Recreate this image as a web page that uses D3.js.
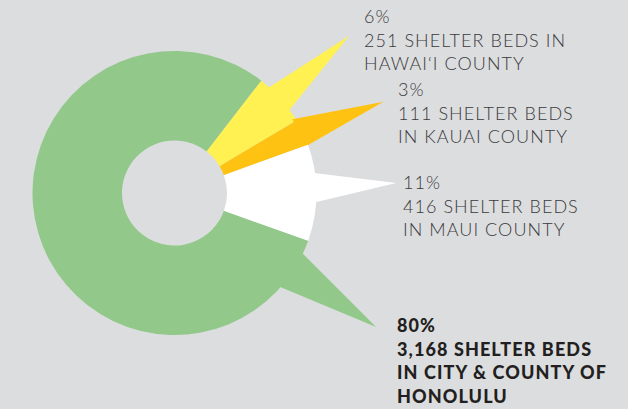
<!DOCTYPE html>
<meta charset="utf-8">
<head>
<style>
body { margin: 0; background: #dcdddf; }
svg { display: block; }
.lbl { font-family: Lato, "Open Sans", sans-serif; font-size: 18px; font-weight: 300; fill: #3a3a3c; letter-spacing: 1.05px; }
.lbl.bold { font-weight: 900; fill: #231f20; letter-spacing: 1.1px; }
</style>
</head>
<script src="https://d3js.org/d3.v7.min.js"></script>
<div id="chart"></div>
<script>

// data
var counties = ["Hawai'i", "Kauai", "Maui", "Honolulu"];
var pct = [6, 3, 11, 80];
var beds = [251, 111, 416, 3168];
var colors = ["#fff151", "#fec312", "#ffffff", "#93c88b"];
var labelLines = [
  ["6%", "251 SHELTER BEDS IN", "HAWAI\u2018I COUNTY"],
  ["3%", "111 SHELTER BEDS", "IN KAUAI COUNTY"],
  ["11%", "416 SHELTER BEDS", "IN MAUI COUNTY"],
  ["80%", "3,168 SHELTER BEDS", "IN CITY & COUNTY OF", "HONOLULU"]
];

// callout spike layout (degrees, clockwise from top) and label anchors
var spikes = [
  {a1: 41.5, a2: 54.5, tipA: 48.0, tipR: 235},
  {a1: 58.0, a2: 70.5, tipA: 66.4, tipR: 228},
  {a1: 81.6, a2: 94.0, tipA: 87.4, tipR: 222},
  {a1: 114.9, a2: 132, tipA: 123.6, tipR: 242}
];
var labelPos = [
  {x: 364, y: 23, bold: false},
  {x: 398, y: 96, bold: false},
  {x: 403, y: 189, bold: false},
  {x: 397, y: 332, bold: true}
];

var width = 628, height = 409;
var cx = 174.5, cy = 193, outerR = 142, innerR = 52.5;

var svg = d3.select("#chart").append("svg")
  .attr("width", width).attr("height", height);

var g = svg.append("g").attr("transform", "translate(" + cx + "," + cy + ")");

var pie = d3.pie().sort(null).value(function(d) { return d; })
  .startAngle(37.7 * Math.PI / 180)
  .endAngle(37.7 * Math.PI / 180 + 2 * Math.PI);
var arcs = pie(pct);

var arc = d3.arc().innerRadius(innerR).outerRadius(outerR);

function pt(deg, r) {
  var a = deg * Math.PI / 180;
  return [r * Math.sin(a), -r * Math.cos(a)];
}

// draw green first, then the small slices on top
var order = [3, 0, 1, 2];
order.forEach(function(i) {
  var s = spikes[i];
  g.append("path")
    .attr("d", arc(arcs[i]))
    .attr("fill", colors[i]);
  g.append("path")
    .attr("d", d3.line()([pt(s.a1, outerR - 3), pt(s.tipA, s.tipR), pt(s.a2, outerR - 3)]) + "Z")
    .attr("fill", colors[i]);
});

// labels
labelLines.forEach(function(lines, i) {
  var p = labelPos[i];
  var t = svg.append("text")
    .attr("class", p.bold ? "lbl bold" : "lbl");
  lines.forEach(function(line, j) {
    t.append("tspan")
      .attr("x", p.x)
      .attr("y", p.y + j * 23.7)
      .text(line);
  });
});
</script>
